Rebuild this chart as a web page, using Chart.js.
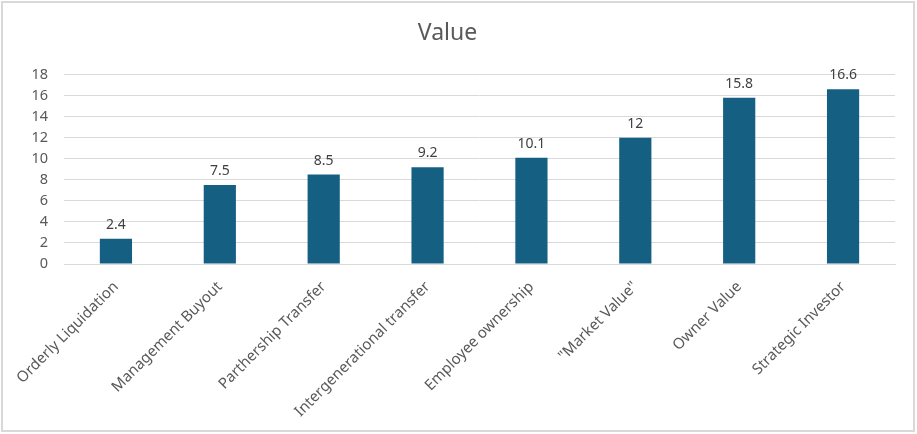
<!DOCTYPE html>
<html>
<head>
<meta charset="utf-8">
<script src="https://cdn.jsdelivr.net/npm/chart.js@4.4.1/dist/chart.umd.min.js"></script>
<style>
  html, body { margin: 0; padding: 0; background: #fff; }
  #wrap { position: relative; width: 917px; height: 434px; }
  #frame { position: absolute; left: 1px; top: 1px; width: 910px; height: 427px;
           border: 2px solid #d9d9d9; pointer-events: none; }
  canvas { position: absolute; left: 0; top: 0; }
</style>
</head>
<body>
<div id="wrap">
  <canvas id="myChart" width="917" height="434"></canvas>
  <div id="frame"></div>
</div>
<script>
const categories = [
  "Orderly Liquidation",
  "Management Buyout",
  "Parthership Transfer",
  "Intergenerational transfer",
  "Employee ownership",
  "\"Market Value\"",
  "Owner Value",
  "Strategic Investor"
];
const values = [2.4, 7.5, 8.5, 9.2, 10.1, 12, 15.8, 16.6];
const yTicks = [0, 2, 4, 6, 8, 10, 12, 14, 16, 18];

const FONT = "'Noto Sans', sans-serif";
const TEXT = "#595959";

// value labels above each bar
const barLabels = {
  id: "barLabels",
  afterDatasetsDraw(chart) {
    const ctx = chart.ctx;
    const meta = chart.getDatasetMeta(0);
    ctx.save();
    ctx.font = "14px " + FONT;
    ctx.fillStyle = "#404040";
    ctx.textAlign = "center";
    ctx.textBaseline = "bottom";
    meta.data.forEach((bar, i) => {
      ctx.fillText(String(values[i]), bar.x, bar.y - 7);
    });
    ctx.restore();
  }
};

const ctx = document.getElementById("myChart").getContext("2d");
new Chart(ctx, {
  type: "bar",
  data: {
    labels: categories,
    datasets: [{
      label: "Value",
      data: values,
      backgroundColor: "#156082",
      categoryPercentage: 1,
      barPercentage: 0.31
    }]
  },
  options: {
    responsive: false,
    animation: false,
    layout: { padding: { left: 0, right: 22, top: 0, bottom: 0 } },
    plugins: {
      legend: { display: false },
      tooltip: { enabled: false },
      title: {
        display: true,
        text: "Value",
        color: TEXT,
        font: { family: FONT, size: 23, weight: "normal" },
        padding: { top: 20, bottom: 27 }
      }
    },
    scales: {
      x: {
        grid: { display: false, drawTicks: false },
        border: { color: "#d9d9d9", width: 1 },
        ticks: {
          color: TEXT,
          font: { family: FONT, size: 15 },
          minRotation: 45,
          maxRotation: 45,
          padding: 14
        },
        afterFit(scale) { scale.height = 434 - 264; }
      },
      y: {
        min: 0,
        max: 18,
        afterBuildTicks(scale) { scale.ticks = yTicks.map(v => ({ value: v })); },
        grid: { color: "#d9d9d9", lineWidth: 1, drawTicks: false },
        border: { display: false },
        ticks: {
          color: TEXT,
          font: { family: FONT, size: 14.5 },
          padding: 16
        },
        afterFit(scale) { scale.width = 64; }
      }
    }
  },
  plugins: [barLabels]
});
</script>
</body>
</html>
